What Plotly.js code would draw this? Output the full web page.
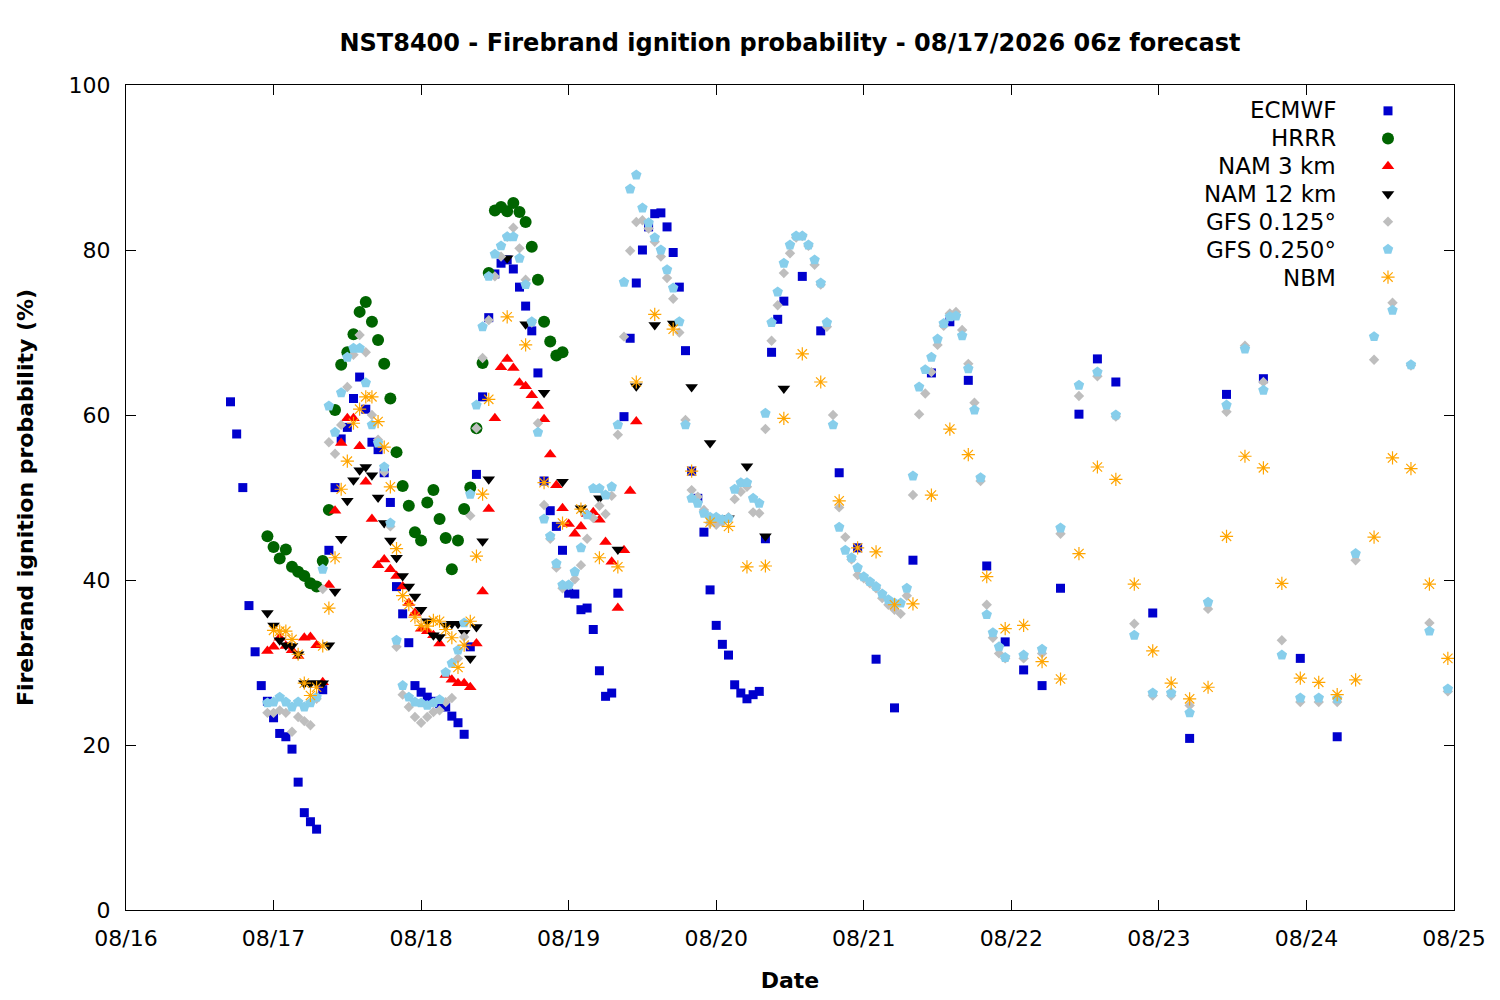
<!DOCTYPE html>
<html>
<head>
<meta charset="utf-8">
<script src="https://cdn.plot.ly/plotly-3.0.1.min.js"></script>
<style>
  html, body { margin: 0; padding: 0; background: #fff; }
  #chart { width: 1500px; height: 1000px; }
</style>
</head>
<body>
<div id="chart"></div>
<script>
// Time axis: hours since 08/16 00z. Tick labels every 24 h.
const tickHours = [0, 24, 48, 72, 96, 120, 144, 168, 192, 216];
const tickLabels = ['08/16', '08/17', '08/18', '08/19', '08/20', '08/21', '08/22', '08/23', '08/24', '08/25'];

// [hour, probability %]
const ECMWF = [
  [17,61.6],[18,57.7],[19,51.2],[20,36.9],[21,31.3],[22,27.2],[23,25.3],[24,23.3],[25,21.4],[26,21.0],
  [27,19.5],[28,15.5],[29,11.8],[30,10.7],[31,9.8],[32,26.7],[33,43.6],[34,51.2],[35,57.1],[36,58.5],
  [37,62.0],[38,64.6],[39,60.7],[40,56.7],[41,55.8],[42,53.0],[43,49.4],[44,39.2],[45,35.9],[46,32.4],
  [47,27.2],[48,26.4],[49,25.8],[50,25.3],[51,25.0],[52,24.6],[53,23.5],[54,22.7],[55,21.3],[56,31.9],
  [57,52.8],[58,62.2],[59,71.8],[60,77.1],[61,78.4],[62,78.8],[63,77.7],[64,75.5],[65,73.2],[66,70.2],
  [67,65.1],[68,52.0],[69,48.4],[70,46.5],[71,43.6],[72,38.4],[73,38.3],[74,36.4],[75,36.6],[76,34.0],
  [77,29.0],[78,25.9],[79,26.3],[80,38.4],[81,59.8],[82,69.3],[83,76.0],[84,80.0],[85,82.8],[86,84.4],
  [87,84.5],[88,82.8],[89,79.7],[90,75.5],[91,67.8],[92,53.2],[93,49.9],[94,45.8],[95,38.8],[96,34.5],
  [97,32.2],[98,30.9],[99,27.3],[100,26.3],[101,25.6],[102,26.1],[103,26.5],[104,45.0],[105,67.6],[106,71.6],
  [107,73.8],[110,76.8],[113,70.2],[116,53.0],[119,43.9],[122,30.4],[125,24.5],[128,42.4],[131,65.1],[134,71.3],
  [137,64.2],[140,41.7],[143,32.5],[146,29.1],[149,27.2],[152,39.0],[155,60.1],[158,66.8],[161,64.0],[167,36.0],
  [173,20.8],[179,62.5],[185,64.4],[191,30.5],[197,21.0]
];

const HRRR = [
  [23,45.3],[24,44.0],[25,42.6],[26,43.7],[27,41.6],[28,41.0],[29,40.5],[30,39.6],[31,39.2],[32,42.3],
  [33,48.5],[34,60.6],[35,66.1],[36,67.6],[37,69.8],[38,72.5],[39,73.7],[40,71.3],[41,69.1],[42,66.2],
  [43,62.0],[44,55.5],[45,51.4],[46,49.0],[47,45.8],[48,44.8],[49,49.4],[50,50.9],[51,47.4],[52,45.1],
  [53,41.3],[54,44.8],[55,48.6],[56,51.2],[57,58.4],[58,66.3],[59,77.2],[60,84.8],[61,85.2],[62,84.7],
  [63,85.7],[64,84.6],[65,83.4],[66,80.4],[67,76.4],[68,71.3],[69,68.9],[70,67.2],[71,67.6]
];

const NAM3 = [
  [23,31.4],[24,31.9],[25,33.0],[26,32.0],[27,31.5],[28,30.8],[29,33.0],[30,33.1],[31,32.1],[32,27.6],
  [33,39.4],[34,48.4],[35,56.6],[36,59.6],[37,59.6],[38,56.2],[39,51.9],[40,47.4],[41,41.8],[42,42.5],
  [43,41.3],[44,40.5],[45,39.2],[46,37.2],[47,36.0],[48,34.1],[49,33.8],[50,33.3],[51,32.3],[52,28.5],
  [53,27.9],[54,27.5],[55,27.5],[56,27.0],[57,32.3],[58,38.6],[59,48.6],[60,59.6],[61,65.8],[62,66.8],
  [63,65.7],[64,63.9],[65,63.5],[66,62.4],[67,61.1],[68,59.5],[69,55.2],[70,51.5],[71,48.7],[72,46.8],
  [73,45.6],[74,46.5],[75,48.0],[76,48.2],[77,47.3],[78,44.6],[79,42.2],[80,36.6],[81,43.6],[82,50.8],
  [83,59.2]
];

const NAM12 = [
  [23,36.0],[24,34.5],[25,32.7],[26,32.1],[27,32.0],[28,31.0],[29,27.5],[30,27.5],[31,27.5],[32,27.5],
  [33,32.1],[34,38.6],[35,45.0],[36,49.6],[37,52.1],[38,53.3],[39,53.7],[40,52.7],[41,50.0],[42,46.9],
  [43,44.8],[44,42.7],[45,40.5],[46,39.2],[47,38.0],[48,36.4],[49,35.0],[50,33.3],[51,33.1],[52,34.5],
  [53,34.7],[54,34.7],[55,33.6],[56,30.5],[57,34.3],[58,44.7],[59,52.2],[62,79.0],[65,71.0],[68,62.7],
  [71,51.9],[74,48.7],[77,49.9],[80,43.7],[83,63.5],[86,70.9],[89,71.1],[92,63.4],[95,56.6],[98,47.5],
  [101,53.8],[104,45.3],[107,63.2]
];

const GFS0125 = [
  [23,23.9],[24,23.9],[25,24.2],[26,23.9],[27,21.6],[28,23.4],[29,22.9],[30,22.4],[31,25.6],[32,38.9],
  [33,56.7],[34,55.3],[35,58.8],[36,63.4],[37,67.3],[38,69.7],[39,67.6],[40,60.0],[41,57.0],[42,53.1],
  [43,46.5],[44,31.9],[45,26.1],[46,24.6],[47,23.4],[48,22.7],[49,23.4],[50,24.0],[51,24.2],[52,25.2],
  [53,25.7],[54,30.5],[55,33.1],[56,47.8],[57,58.4],[58,66.9],[59,71.5],[60,76.8],[61,79.2],[62,81.6],
  [63,82.7],[64,80.2],[65,76.4],[66,71.2],[67,59.0],[68,49.1],[69,45.0],[70,41.5],[71,39.0],[72,39.4],
  [73,40.1],[74,41.8],[75,45.0],[76,47.5],[77,49.0],[78,48.0],[79,50.2],[80,57.6],[81,69.5],[82,79.9],
  [83,83.4],[84,83.6],[85,82.6],[86,81.0],[87,79.2],[88,76.6],[89,74.1],[90,70.0],[91,59.4],[92,50.9],
  [93,50.1],[94,48.5],[95,46.9],[96,46.7],[97,47.0],[98,47.6],[99,49.8],[100,50.7],[101,51.3],[102,48.2],
  [103,48.1],[104,58.3],[105,69.0],[106,73.3],[107,77.2],[108,79.6],[109,81.5],[110,81.7],[111,80.5],[112,78.2],
  [113,75.8],[114,70.7],[115,60.0],[116,48.8],[117,45.2],[118,42.5],[119,40.6],[120,40.2],[121,39.6],[122,39.0],
  [123,37.8],[124,37.0],[125,36.4],[126,35.9],[127,38.1],[128,50.3],[129,60.1],[130,62.6],[131,65.2],[132,68.5],
  [133,70.8],[134,72.3],[135,72.5],[136,70.3],[137,66.2],[138,61.5],[139,52.0],[140,37.0],[141,33.0],[142,31.1],
  [143,30.5],[146,30.5],[149,31.1],[152,45.6],[155,62.3],[158,64.7],[161,59.8],[164,34.7],[167,26.0],[170,26.0],
  [173,24.8],[176,36.5],[179,60.4],[182,68.4],[185,64.0],[188,32.7],[191,25.2],[194,25.2],[197,25.2],[200,42.4],
  [203,66.7],[206,73.6],[209,66.0],[212,34.8],[215,26.5]
];

const GFS0250 = [
  [23,25.1],[24,25.2],[25,25.8],[26,25.2],[27,24.6],[28,25.2],[29,24.6],[30,25.1],[31,25.8],[32,41.3],
  [33,61.1],[34,57.9],[35,62.7],[36,67.0],[37,68.1],[38,68.1],[39,63.9],[40,58.8],[41,56.6],[42,53.7],
  [43,46.9],[44,32.7],[45,27.2],[46,25.8],[47,25.2],[48,25.1],[49,24.8],[50,25.1],[51,25.5],[52,28.8],
  [53,29.9],[54,31.5],[55,34.8],[56,50.4],[57,61.2],[58,70.7],[59,76.8],[60,79.5],[61,80.5],[62,81.6],
  [63,81.6],[64,79.0],[65,75.8],[66,71.3],[67,57.9],[68,47.4],[69,45.3],[70,42.0],[71,39.4],[72,39.4],
  [73,41.0],[74,43.9],[75,47.9],[76,51.1],[77,51.1],[78,50.3],[79,51.3],[80,58.8],[81,76.1],[82,87.4],
  [83,89.1],[84,85.1],[85,83.3],[86,81.5],[87,80.0],[88,77.6],[89,75.4],[90,71.3],[91,58.8],[92,49.9],
  [93,49.3],[94,48.1],[95,47.6],[96,47.6],[97,47.3],[98,47.5],[99,51.0],[100,51.8],[101,51.8],[102,49.9],
  [103,49.3],[104,60.2],[105,71.2],[106,74.9],[107,78.4],[108,80.6],[109,81.7],[110,81.7],[111,80.6],[112,78.8],
  [113,76.0],[114,71.2],[115,58.8],[116,46.4],[117,43.6],[118,42.7],[119,41.5],[120,40.4],[121,39.8],[122,39.2],
  [123,38.3],[124,37.6],[125,37.2],[126,37.2],[127,39.0],[128,52.6],[129,63.4],[130,65.5],[131,67.0],[132,69.2],
  [133,71.1],[134,71.9],[135,72.0],[136,69.6],[137,65.6],[138,60.6],[139,52.4],[140,35.8],[141,33.6],[142,31.9],
  [143,30.6],[146,30.9],[149,31.6],[152,46.3],[155,63.6],[158,65.2],[161,60.0],[164,33.3],[167,26.3],[170,26.3],
  [173,23.9],[176,37.3],[179,61.2],[182,68.0],[185,63.0],[188,30.9],[191,25.7],[194,25.7],[197,25.6],[200,43.2],
  [203,69.5],[206,72.7],[209,66.1],[212,33.8],[215,26.8]
];

const NBM = [
  [24,33.9],[25,33.8],[26,33.8],[27,32.8],[28,31.0],[29,27.5],[30,26.0],[31,27.0],[32,32.0],[33,36.6],
  [34,42.7],[35,51.0],[36,54.4],[37,59.0],[38,60.7],[39,62.2],[40,62.2],[41,59.2],[42,56.1],[43,51.3],
  [44,43.8],[45,38.1],[46,37.0],[47,35.5],[48,34.5],[49,34.4],[50,35.1],[51,35.0],[52,34.0],[53,33.0],
  [54,29.4],[55,32.1],[56,35.0],[57,42.9],[58,50.4],[59,61.9],[62,71.9],[65,68.5],[68,51.8],[71,46.9],
  [74,48.6],[77,42.7],[80,41.6],[83,64.0],[86,72.2],[89,70.4],[92,53.2],[95,47.0],[98,46.5],[101,41.6],
  [104,41.7],[107,59.6],[110,67.4],[113,64.0],[116,49.6],[119,43.9],[122,43.4],[125,37.0],[128,37.1],[131,50.3],
  [134,58.3],[137,55.2],[140,40.4],[143,34.1],[146,34.5],[149,30.1],[152,28.0],[155,43.2],[158,53.7],[161,52.2],
  [164,39.5],[167,31.4],[170,27.5],[173,25.6],[176,27.0],[179,45.3],[182,55.0],[185,53.6],[188,39.6],[191,28.1],
  [194,27.6],[197,26.1],[200,27.9],[203,45.2],[206,54.8],[209,53.5],[212,39.5],[215,30.5]
];

const seriesNames = ['ECMWF', 'HRRR', 'NAM 3 km', 'NAM 12 km', 'GFS 0.125°', 'GFS 0.250°', 'NBM'];
const seriesData = [ECMWF, HRRR, NAM3, NAM12, GFS0125, GFS0250, NBM];
const seriesColors = ['#0000CD', '#006400', '#FF0000', '#000000', '#BEBEBE', '#87CEEB', '#FFA500'];
const seriesSymbols = ['square', 'circle', 'triangle-up', 'triangle-down', 'diamond', 'pentagon', 'asterisk-open'];
const seriesSizes = [9, 12, 11, 11, 8, 11, 11];

const FONT = 'DejaVu Sans, Liberation Sans, sans-serif';

// Plot area in pixels (used for placing the gnuplot-style key)
const PLOT_L = 126, PLOT_R = 1454, PLOT_T = 85, PLOT_B = 910;
const KEY_TEXT_RIGHT = 1338, KEY_SYMBOL_X = 1388, KEY_TOP_Y = 110, KEY_STEP = 28;

const traces = seriesData.map((d, i) => {
  const isStar = seriesSymbols[i] === 'asterisk-open';
  return {
    type: 'scatter',
    mode: 'markers',
    name: ' ',
    legendrank: i + 1,
    x: d.map(p => p[0]),
    y: d.map(p => p[1]),
    marker: {
      symbol: seriesSymbols[i],
      size: seriesSizes[i],
      color: seriesColors[i],
      line: isStar ? { color: seriesColors[i], width: 1.2 } : { width: 0 }
    },
    hoverinfo: 'skip'
  };
});

// key labels, right-aligned to the left of the key symbols (gnuplot style)
const pw = PLOT_R - PLOT_L, ph = PLOT_B - PLOT_T;
const keyAnnotations = seriesNames.map((name, i) => ({
  text: name,
  xref: 'paper', yref: 'paper',
  x: (KEY_TEXT_RIGHT - PLOT_L) / pw,
  y: (PLOT_B - (KEY_TOP_Y + i * KEY_STEP)) / ph,
  xanchor: 'right', yanchor: 'middle',
  showarrow: false,
  font: { family: FONT, size: 23, color: '#000' }
}));

const layout = {
  width: 1500,
  height: 1000,
  paper_bgcolor: '#ffffff',
  plot_bgcolor: '#ffffff',
  margin: { l: PLOT_L, r: 1500 - PLOT_R, t: PLOT_T, b: 1000 - PLOT_B, pad: 0 },
  showlegend: true,
  annotations: keyAnnotations,
  title: {
    text: 'NST8400 - Firebrand ignition probability - 08/17/2026 06z forecast',
    font: { family: FONT, size: 24, color: '#000', weight: 'bold' },
    x: 0.5, xref: 'paper', xanchor: 'center',
    y: 0.957, yref: 'container', yanchor: 'middle'
  },
  xaxis: {
    range: [0, 216],
    tickmode: 'array',
    tickvals: tickHours,
    ticktext: tickLabels,
    ticks: 'inside',
    ticklen: 10,
    tickcolor: '#000',
    tickwidth: 1,
    ticklabelstandoff: 9,
    showline: true,
    linecolor: '#000',
    linewidth: 1,
    mirror: 'ticks',
    showgrid: false,
    zeroline: false,
    automargin: false,
    tickfont: { family: FONT, size: 22, color: '#000' },
    title: {
      text: 'Date',
      font: { family: FONT, size: 22, color: '#000', weight: 'bold' },
      standoff: 22
    }
  },
  yaxis: {
    range: [0, 100],
    tickmode: 'array',
    tickvals: [0, 20, 40, 60, 80, 100],
    ticktext: ['0', '20', '40', '60', '80', '100'],
    ticks: 'inside',
    ticklen: 10,
    tickcolor: '#000',
    tickwidth: 1,
    ticklabelstandoff: 10,
    showline: true,
    linecolor: '#000',
    linewidth: 1,
    mirror: 'ticks',
    showgrid: false,
    zeroline: false,
    automargin: false,
    tickfont: { family: FONT, size: 22, color: '#000' },
    title: {
      text: 'Firebrand ignition probability (%)',
      font: { family: FONT, size: 22, color: '#000', weight: 'bold' },
      standoff: 28
    }
  },
  legend: {
    x: (KEY_SYMBOL_X - 20 - PLOT_L) / pw, xanchor: 'left',
    y: 1 - 7 / ph, yanchor: 'top',
    bgcolor: 'rgba(0,0,0,0)',
    borderwidth: 0,
    font: { family: FONT, size: 19, color: '#000' },
    tracegroupgap: 0,
    itemwidth: 30
  }
};

Plotly.newPlot('chart', traces, layout, { staticPlot: true, displayModeBar: false });
</script>
</body>
</html>
